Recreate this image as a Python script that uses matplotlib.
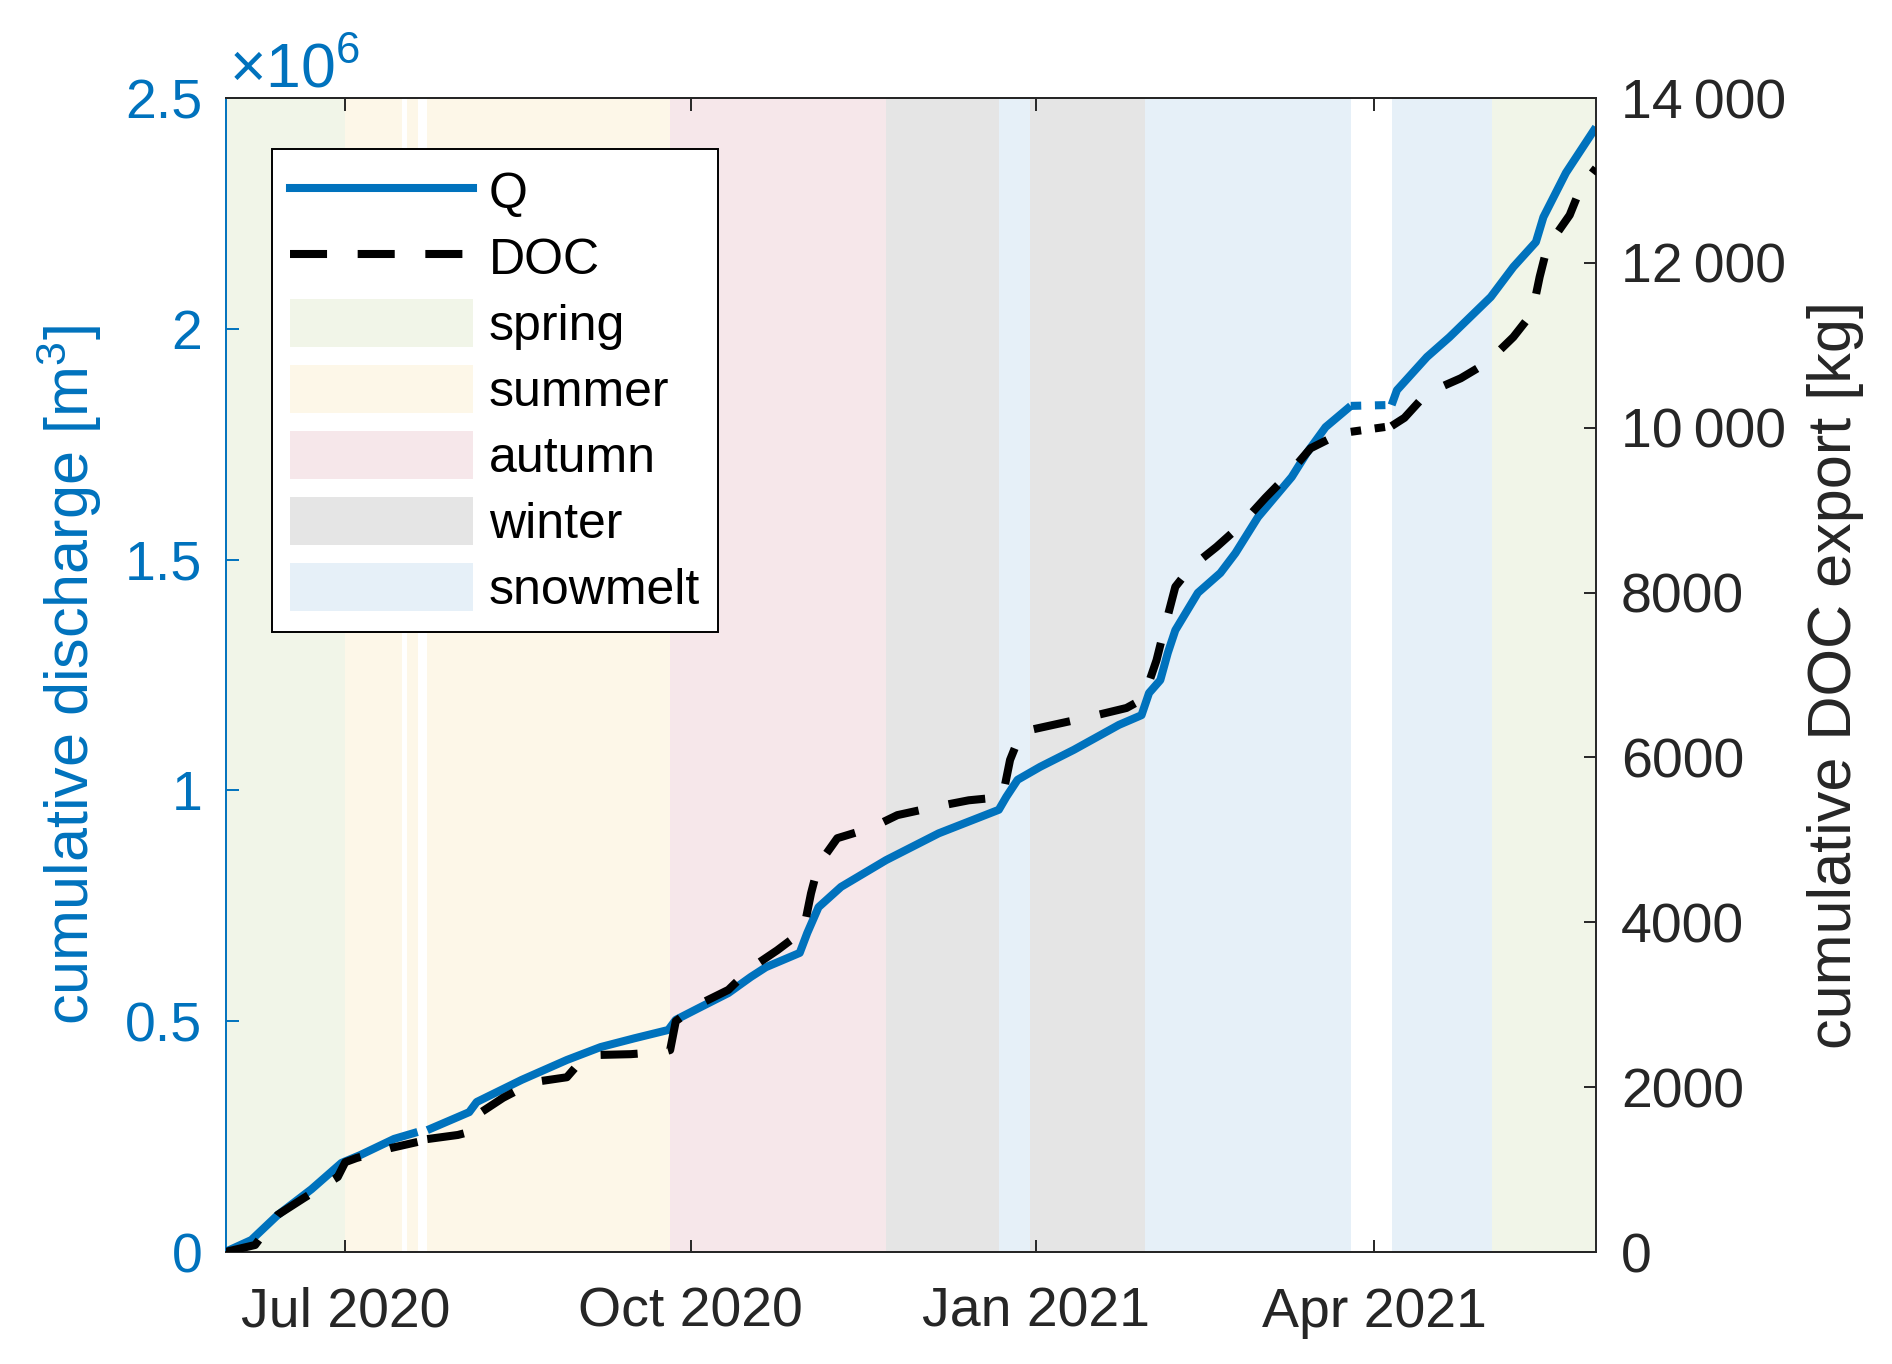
import matplotlib
matplotlib.use("Agg")
import matplotlib.pyplot as plt
import numpy as np
import pandas as pd
from matplotlib.lines import Line2D
from matplotlib.patches import Patch
from matplotlib.ticker import FuncFormatter, FixedLocator

plt.rcParams['font.family'] = ['Liberation Sans', 'DejaVu Sans']
plt.rcParams['mathtext.fontset'] = 'custom'
plt.rcParams['mathtext.rm'] = 'Liberation Sans'
plt.rcParams['mathtext.it'] = 'Liberation Sans:italic'
plt.rcParams['mathtext.bf'] = 'Liberation Sans:bold'

# ---------------- data ----------------
# cumulative discharge Q (in 10^6 m^3)
q_dates = ["2020-05-30", "2020-06-06", "2020-06-13", "2020-06-22", "2020-06-30",
           "2020-07-05", "2020-07-14", "2020-07-20 06:00", "2020-07-22 20:00",
           "2020-08-03", "2020-08-05", "2020-08-17", "2020-08-29", "2020-09-07",
           "2020-09-16", "2020-09-25", "2020-09-27", "2020-10-03", "2020-10-11",
           "2020-10-17", "2020-10-21", "2020-10-30", "2020-11-01", "2020-11-04",
           "2020-11-10", "2020-11-22", "2020-12-06", "2020-12-22", "2020-12-24",
           "2020-12-27", "2021-01-02", "2021-01-11", "2021-01-23", "2021-01-29",
           "2021-01-31", "2021-02-03", "2021-02-05", "2021-02-07", "2021-02-13",
           "2021-02-19", "2021-02-23", "2021-03-01", "2021-03-10", "2021-03-14",
           "2021-03-19", "2021-03-25 17:00", "2021-04-05 14:00", "2021-04-07",
           "2021-04-15", "2021-04-21", "2021-05-02", "2021-05-08", "2021-05-14",
           "2021-05-16", "2021-05-22", "2021-05-30"]
q_values = [0.000, 0.026, 0.080, 0.136, 0.193,
            0.210, 0.245, 0.260, 0.264,
            0.303, 0.325, 0.373, 0.416, 0.444,
            0.463, 0.481, 0.503, 0.528, 0.561,
            0.596, 0.617, 0.648, 0.691, 0.747,
            0.791, 0.849, 0.907, 0.958, 0.986,
            1.023, 1.051, 1.088, 1.142, 1.163,
            1.211, 1.239, 1.298, 1.347, 1.428,
            1.471, 1.514, 1.592, 1.679, 1.731,
            1.787, 1.833, 1.835, 1.867,
            1.939, 1.982, 2.069, 2.134, 2.188,
            2.242, 2.338, 2.437]

# cumulative DOC export (kg)
doc_dates = ["2020-05-30", "2020-06-07", "2020-06-13", "2020-06-20", "2020-06-29",
             "2020-07-01", "2020-07-04", "2020-07-13", "2020-07-20 06:00",
             "2020-07-22 20:00", "2020-07-31", "2020-08-03", "2020-08-05",
             "2020-08-12", "2020-08-20", "2020-08-29", "2020-09-02", "2020-09-06",
             "2020-09-15", "2020-09-24", "2020-09-25 12:00", "2020-09-27",
             "2020-10-03", "2020-10-11", "2020-10-17", "2020-10-24", "2020-10-31",
             "2020-11-02", "2020-11-04", "2020-11-09", "2020-11-18", "2020-11-25",
             "2020-12-05", "2020-12-14", "2020-12-23", "2020-12-25", "2020-12-28",
             "2021-01-05", "2021-01-15", "2021-01-25", "2021-01-29", "2021-01-30",
             "2021-02-02", "2021-02-04", "2021-02-07", "2021-02-11", "2021-02-18",
             "2021-02-24", "2021-03-03", "2021-03-09", "2021-03-15", "2021-03-22",
             "2021-03-25 17:00", "2021-04-05 14:00", "2021-04-09", "2021-04-15",
             "2021-04-24", "2021-05-01", "2021-05-08", "2021-05-13", "2021-05-15",
             "2021-05-17", "2021-05-23", "2021-05-26", "2021-05-30"]
doc_values = [0, 85, 450, 655, 910,
              1090, 1140, 1260, 1335,
              1370, 1420, 1456, 1660,
              1870, 2060, 2120, 2330, 2390,
              2400, 2430, 2450, 2800,
              3000, 3180, 3445, 3660, 3900,
              4350, 4700, 5020, 5145, 5300,
              5400, 5480, 5520, 5970, 6310,
              6390, 6490, 6600, 6700, 6780,
              7180, 7545, 8070, 8300, 8555,
              8800, 9150, 9430, 9750, 9910,
              9950, 10020, 10120, 10420,
              10600, 10790, 11100, 11390, 11830,
              12190, 12580, 12920, 13150]

# data gaps: no data (not drawn) and interpolated (dotted)
gap_nodata = ("2020-07-20 06:00", "2020-07-22 20:00")
gap_interp = ("2021-03-25 17:00", "2021-04-05 14:00")

# season background periods
season_names = ["spring", "summer", "autumn", "winter", "snowmelt"]
season_colors = ["#f1f5e8", "#fdf7e8", "#f6e7ea", "#e5e5e5", "#e6f0f8"]
span_season = ["spring", "summer", "summer", "summer", "autumn", "winter",
               "snowmelt", "winter", "snowmelt", "snowmelt", "spring"]
span_start = ["2020-05-30", "2020-07-01", "2020-07-17 12:00", "2020-07-22 20:00",
              "2020-09-25 12:00", "2020-11-22", "2020-12-22", "2020-12-30 08:00",
              "2021-01-29 20:00", "2021-04-05 14:00", "2021-05-02 05:00"]
span_end = ["2020-07-01", "2020-07-16", "2020-07-20 06:00", "2020-09-25 12:00",
            "2020-11-22", "2020-12-22", "2020-12-30 08:00", "2021-01-29 20:00",
            "2021-03-25 17:00", "2021-05-02 05:00", "2021-05-30"]

xtick_dates = ["2020-07-01", "2020-10-01", "2021-01-01", "2021-04-01"]
xtick_labels = ["Jul 2020", "Oct 2020", "Jan 2021", "Apr 2021"]
q_ticks = [0, 0.5e6, 1.0e6, 1.5e6, 2.0e6, 2.5e6]
doc_ticks = [0, 2000, 4000, 6000, 8000, 10000, 12000, 14000]

# ---------------- style ----------------
BLUE = "#0072BD"
DARK = "#262626"
FS = 40
LW = 5.8


def to_dt(seq):
    return pd.to_datetime(pd.Series(seq), format='mixed')


fig = plt.figure(figsize=(18.92, 13.64), dpi=100)
ax = fig.add_axes([0.11945, 0.08211, 0.72410, 0.84604])
ax2 = ax.twinx()

for s, a, b in zip(span_season, span_start, span_end):
    c = season_colors[season_names.index(s)]
    ax.axvspan(pd.Timestamp(a), pd.Timestamp(b), color=c, lw=0, zorder=0)


def segments(dates, vals):
    d = to_dt(dates)
    v = np.asarray(vals, dtype=float)
    g1s, g1e = pd.Timestamp(gap_nodata[0]), pd.Timestamp(gap_nodata[1])
    g2s, g2e = pd.Timestamp(gap_interp[0]), pd.Timestamp(gap_interp[1])
    solid = [(d <= g1s).values, ((d >= g1e) & (d <= g2s)).values, (d >= g2e).values]
    dotted = ((d >= g2s) & (d <= g2e)).values
    return d.values, v, solid, dotted


d, v, solid, dotted = segments(q_dates, q_values)
for m in solid:
    ax.plot(d[m], v[m] * 1e6, color=BLUE, lw=LW, solid_capstyle='butt', zorder=3)
ax.plot(d[dotted], v[dotted] * 1e6, color=BLUE, lw=LW,
        linestyle=(0, (1.3, 1.7)), dash_capstyle='butt', zorder=3)

d, v, solid, dotted = segments(doc_dates, doc_values)
for m in solid:
    ax2.plot(d[m], v[m], color='black', lw=LW, linestyle=(0, (4.6, 3.8)),
             dash_capstyle='butt', zorder=3)
ax2.plot(d[dotted], v[dotted], color='black', lw=LW,
         linestyle=(0, (1.3, 1.7)), dash_capstyle='butt', zorder=3)

# axes limits
ax.set_xlim(pd.Timestamp("2020-05-30 06:00"), pd.Timestamp("2021-05-30"))
ax.set_ylim(0, 2.5e6)
ax2.set_ylim(0, 14000)

# ticks
ax.xaxis.set_major_locator(FixedLocator(
    [matplotlib.dates.date2num(pd.Timestamp(t)) for t in xtick_dates]))
ax.set_xticklabels(xtick_labels)
ax.tick_params(axis='x', direction='in', top=True, bottom=True, length=9, width=1.4,
               colors=DARK, labelsize=FS, pad=25)
ax.yaxis.set_major_locator(FixedLocator(q_ticks))
ax.yaxis.set_major_formatter(FuncFormatter(lambda x, p: f"{x / 1e6:g}"))
ax.tick_params(axis='y', direction='in', left=True, right=False, length=9, width=1.4,
               colors=BLUE, labelsize=FS, pad=17)
ax2.yaxis.set_major_locator(FixedLocator(doc_ticks))
ax2.yaxis.set_major_formatter(FuncFormatter(
    lambda x, p: f"{int(x)}" if x < 10000 else f"{int(x) // 1000}\u2009000"))
ax2.tick_params(axis='y', direction='in', left=False, right=True, length=9, width=1.4,
                colors=DARK, labelsize=FS, pad=18)

for sp in ['top', 'bottom']:
    ax.spines[sp].set_color(DARK)
    ax.spines[sp].set_linewidth(1.4)
    ax2.spines[sp].set_color(DARK)
    ax2.spines[sp].set_linewidth(1.4)
ax.spines['left'].set_color(BLUE)
ax.spines['left'].set_linewidth(1.4)
ax.spines['right'].set_visible(False)
ax2.spines['left'].set_visible(False)
ax2.spines['right'].set_color(DARK)
ax2.spines['right'].set_linewidth(1.4)
ax2.patch.set_visible(False)

ax.set_ylabel("cumulative discharge [m$^3$]", color=BLUE, fontsize=44, labelpad=15)
ax2.set_ylabel("cumulative DOC export [kg]", color=DARK, fontsize=44, labelpad=15,
               rotation=90)

ax.annotate(r"$\times\mathdefault{10^{6}}$", xy=(0, 1), xycoords='axes fraction',
            xytext=(2, 8), textcoords='offset points', ha='left', va='baseline',
            color=BLUE, fontsize=45)

handles = [Line2D([], [], color=BLUE, lw=LW),
           Line2D([], [], color='black', lw=LW, linestyle=(0, (4.6, 3.8)),
                  dash_capstyle='butt')]
handles += [Patch(facecolor=c, edgecolor='none') for c in season_colors]
labels = ["Q", "DOC"] + season_names
leg = ax2.legend(handles, labels, loc='upper left', bbox_to_anchor=(0.0336, 0.9558),
                 fontsize=36, frameon=True, fancybox=False, framealpha=1,
                 edgecolor='black', borderaxespad=0, handlelength=3.65,
                 handleheight=1.1, handletextpad=0.33, labelspacing=0.3,
                 borderpad=0.36)
leg.get_frame().set_linewidth(1.4)
for t in leg.get_texts():
    t.set_color('black')

fig.savefig("out.png", dpi=100)
